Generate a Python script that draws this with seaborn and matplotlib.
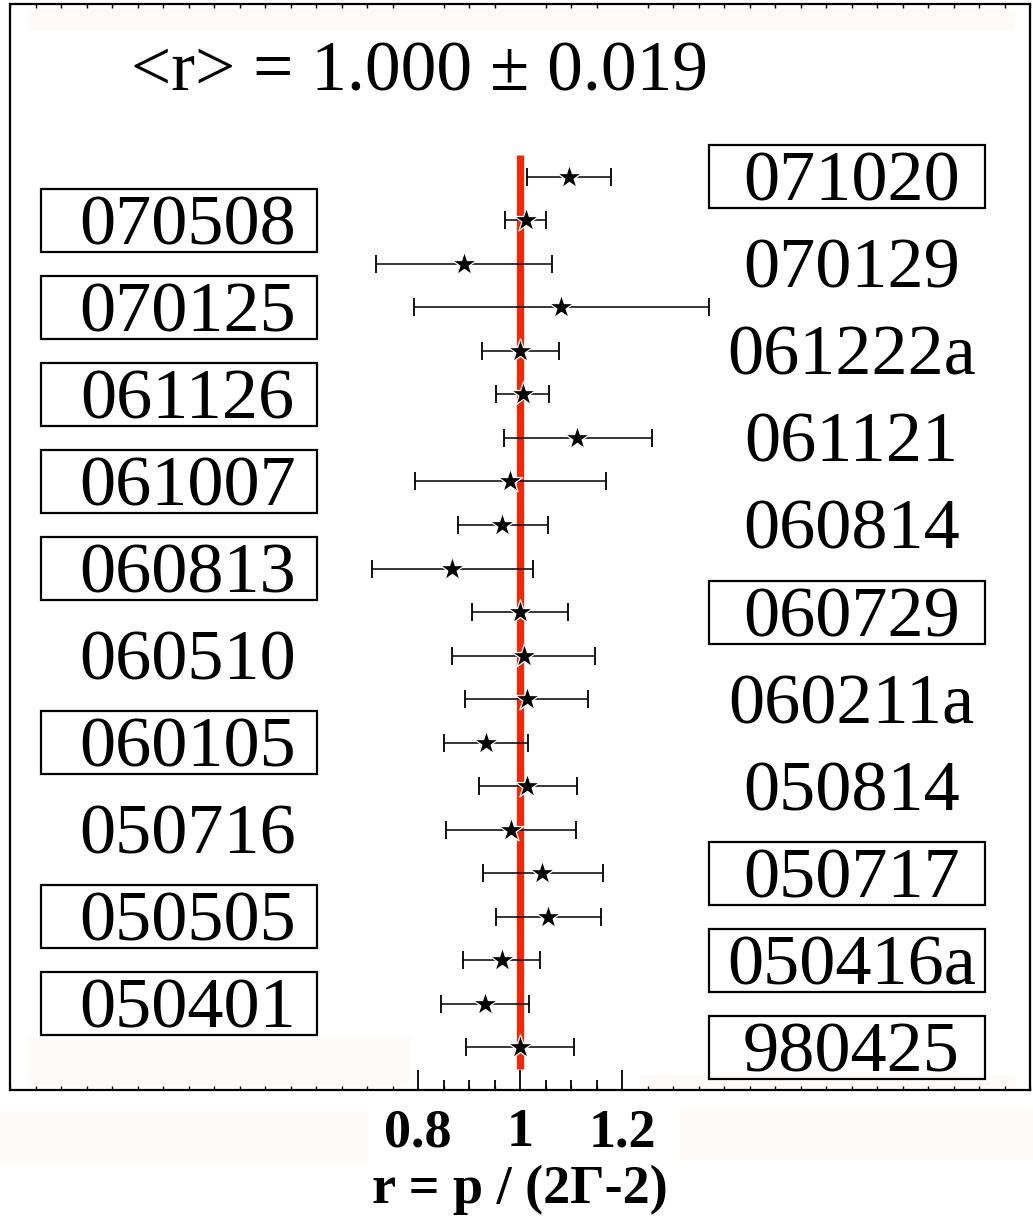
import numpy as np
import pandas as pd
import matplotlib
matplotlib.use("Agg")
import matplotlib.pyplot as plt
import seaborn as sns
from matplotlib.patches import Rectangle
from matplotlib.ticker import FixedLocator, MultipleLocator, NullLocator

sns.set_style("ticks")
plt.rcParams["font.family"] = ["Liberation Serif", "DejaVu Serif"]
plt.rcParams["text.color"] = "black"
plt.rcParams["axes.labelcolor"] = "black"
plt.rcParams["xtick.color"] = "black"

# ---------------- data (top to bottom) ----------------
grb = ["071020", "070508", "070129", "070125", "061222a", "061126", "061121",
       "061007", "060814", "060813", "060729", "060510", "060211a", "060105",
       "050814", "050716", "050717", "050505", "050416a", "050401", "980425"]
ratio = [1.096, 1.012, 0.890, 1.080, 1.000, 1.005, 1.112,
         0.981, 0.965, 0.867, 1.000, 1.007, 1.014, 0.933,
         1.014, 0.982, 1.044, 1.055, 0.964, 0.931, 1.000]
ratio_low = [1.013, 0.971, 0.718, 0.793, 0.926, 0.952, 0.968,
             0.794, 0.879, 0.710, 0.905, 0.866, 0.893, 0.850,
             0.919, 0.854, 0.928, 0.952, 0.888, 0.846, 0.895]
ratio_high = [1.178, 1.050, 1.062, 1.370, 1.076, 1.056, 1.258,
              1.168, 1.054, 1.025, 1.095, 1.148, 1.133, 1.016,
              1.111, 1.109, 1.162, 1.159, 1.039, 1.018, 1.105]
boxed = [True, True, False, True, False, True, False,
         True, False, True, True, False, False, True,
         False, False, True, True, True, True, True]
mean_r = 1.000
mean_text = "<r> = 1.000 ± 0.019"
xlabel_text = "r = p / (2Γ-2)"
tick_values = [0.8, 1.0, 1.2]
tick_labels = ["0.8", "1", "1.2"]

df = pd.DataFrame({"grb": grb, "r": ratio, "lo": ratio_low, "hi": ratio_high,
                   "boxed": boxed})
df["row"] = np.arange(len(df))
n = len(df)

# ---------------- layout ----------------
W, H = 1033, 1226
fig = plt.figure(figsize=(W / 100, H / 100), dpi=100)
fig.patch.set_facecolor("white")
ax = fig.add_axes([10 / W, (H - 1090) / H, 1020 / W, 1086 / H])
ax.set_facecolor("none")

# faint background artefacts of the original scan
pink = "#fefaf8"
for (x0, y0, w, h) in [(28, 9, 987, 21), (28, 1037, 383, 48), (640, 1075, 375, 13),
                       (0, 1111, 368, 53), (680, 1108, 353, 52)]:
    fig.patches.append(Rectangle((x0 / W, 1 - (y0 + h) / H), w / W, h / H,
                                 transform=fig.transFigure, color=pink,
                                 zorder=-5, lw=0))

# mean line
ax.vlines(mean_r, -0.5, n - 0.5, color="#ff2400", lw=5.2, zorder=1)

# error bars
ax.errorbar(df["r"], df["row"], xerr=[df["r"] - df["lo"], df["hi"] - df["r"]],
            fmt="none", ecolor="black", elinewidth=1.1, capsize=6.5,
            capthick=1.3, zorder=2)

# stars
sns.scatterplot(data=df, x="r", y="row", marker="*", s=340, color="black",
                edgecolor="white", linewidth=0.9, zorder=3, ax=ax, legend=False)

ax.set_xlim(0, 2)
ax.set_ylim(n - 0.5 + 0.48, -3.97)

# labels
box_w = 0.54
box_h = 1.45
left_box_x, right_box_x = 0.061, 1.371
left_txt_x, right_txt_x = 0.348, 1.650
base_off = 0.55
for _, rw in df.iterrows():
    right = rw["row"] % 2 == 0
    tx = right_txt_x if right else left_txt_x
    bx = right_box_x if right else left_box_x
    ax.text(tx, rw["row"] + base_off, rw["grb"], ha="center", va="baseline",
            fontsize=52, color="black", zorder=4)
    if rw["boxed"]:
        ax.add_patch(Rectangle((bx, rw["row"] - box_h / 2), box_w, box_h,
                               fill=False, ec="black", lw=1.6, zorder=4))

ax.text(0.802, -1.99, mean_text, ha="center", va="baseline", fontsize=51.5,
        color="black")

# axes styling
ax.set_yticks([])
ax.set_ylabel("")
ax.xaxis.set_major_locator(FixedLocator(tick_values))
ax.set_xticklabels(tick_labels, fontweight="bold", fontsize=39, color="black")
ax.xaxis.set_minor_locator(MultipleLocator(0.05))
ax.tick_params(axis="x", which="major", direction="in", length=14.4, width=1.3,
               top=False, bottom=True, pad=13, colors="black")
ax.tick_params(axis="x", which="minor", direction="in", length=3, width=1.0,
               top=True, bottom=True, colors="black")
for s in ax.spines.values():
    s.set_visible(True)
    s.set_linewidth(1.6)
    s.set_color("black")

medium = [v for v in np.round(np.arange(0.8, 1.2001, 0.05), 2)
          if v not in tick_values]
sec = ax.secondary_xaxis("bottom")
sec.set_xticks(medium)
sec.set_xticklabels([])
sec.xaxis.set_minor_locator(NullLocator())
sec.tick_params(direction="in", length=7.2, width=1.3, colors="black")
sec.spines["bottom"].set_visible(False)

ax.set_xlabel(xlabel_text, fontweight="bold", fontsize=39, labelpad=5,
              color="black")

fig.savefig("out.png", dpi=100, facecolor="white")
